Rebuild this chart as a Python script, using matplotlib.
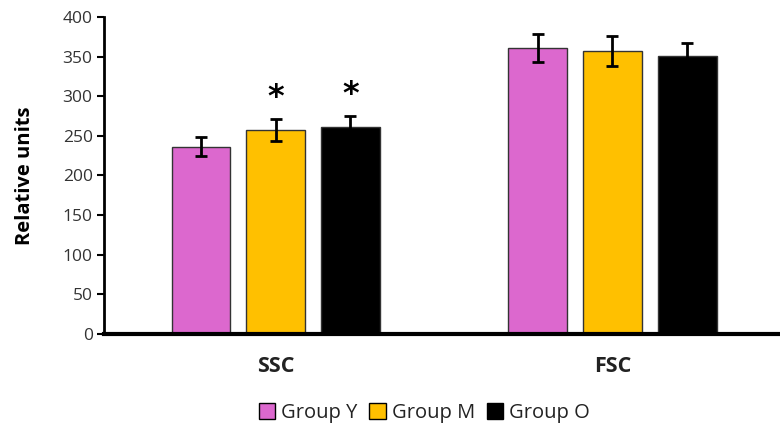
import numpy as np
from matplotlib import pyplot as plt
from matplotlib.patches import Patch

# values
categories = ["SSC", "FSC"]
groups = ["Group Y", "Group M", "Group O"]
means = {
    "Group Y": [236, 361],
    "Group M": [257, 357],
    "Group O": [261, 351],
}
errors = {
    "Group Y": [12, 18],
    "Group M": [14, 19],
    "Group O": [14, 16],
}
significant = {
    "Group Y": [False, False],
    "Group M": [True, False],
    "Group O": [True, False],
}
colors = {"Group Y": "#DC68CE", "Group M": "#FFC000", "Group O": "#000000"}

plt.rcParams['font.family'] = ['Open Sans', 'DejaVu Sans']

fig = plt.figure(figsize=(7.8, 4.37), dpi=100)
ax = fig.add_axes([0.133, 0.236, 0.867, 0.725])

x = np.arange(len(categories))
width = 0.175
step = 0.222
for i, g in enumerate(groups):
    pos = x + (i - 1) * step
    ax.bar(pos, means[g], width, color=colors[g], edgecolor="#333333", linewidth=1,
           yerr=errors[g], capsize=4,
           error_kw=dict(ecolor="black", elinewidth=2, capthick=2), zorder=2)
    for p, m, e, s in zip(pos, means[g], errors[g], significant[g]):
        if s:
            ax.text(p, m + e + 8, "*", ha="center", va="bottom", fontsize=23,
                    fontweight="bold", family="DejaVu Sans")

ax.set_xlim(-0.511, 1.498)
ax.set_ylim(0, 400)
ax.set_yticks(range(0, 401, 50))
ax.tick_params(axis="y", labelsize=12.5, labelcolor="#333333", width=1.5,
               length=5, direction="out", pad=3)
ax.set_xticks(x)
ax.set_xticklabels(categories, fontsize=15.5, fontweight="bold", color="#222222")
ax.tick_params(axis="x", length=0, pad=16)
ax.set_ylabel("Relative units", fontsize=14.5, fontweight="bold", labelpad=20)

for s in ["top", "right"]:
    ax.spines[s].set_visible(False)
ax.spines["left"].set_linewidth(2)
ax.spines["bottom"].set_linewidth(3)

handles = [Patch(facecolor=colors[g], edgecolor="black", linewidth=1, label=g) for g in groups]
leg = fig.legend(handles=handles, loc="center", bbox_to_anchor=(0.544, 0.055), ncol=3,
                 frameon=False, fontsize=14.5, handlelength=0.8, handleheight=0.8,
                 handletextpad=0.3, columnspacing=0.6)
for t in leg.get_texts():
    t.set_color("#222222")

fig.savefig("out.png", dpi=100)
